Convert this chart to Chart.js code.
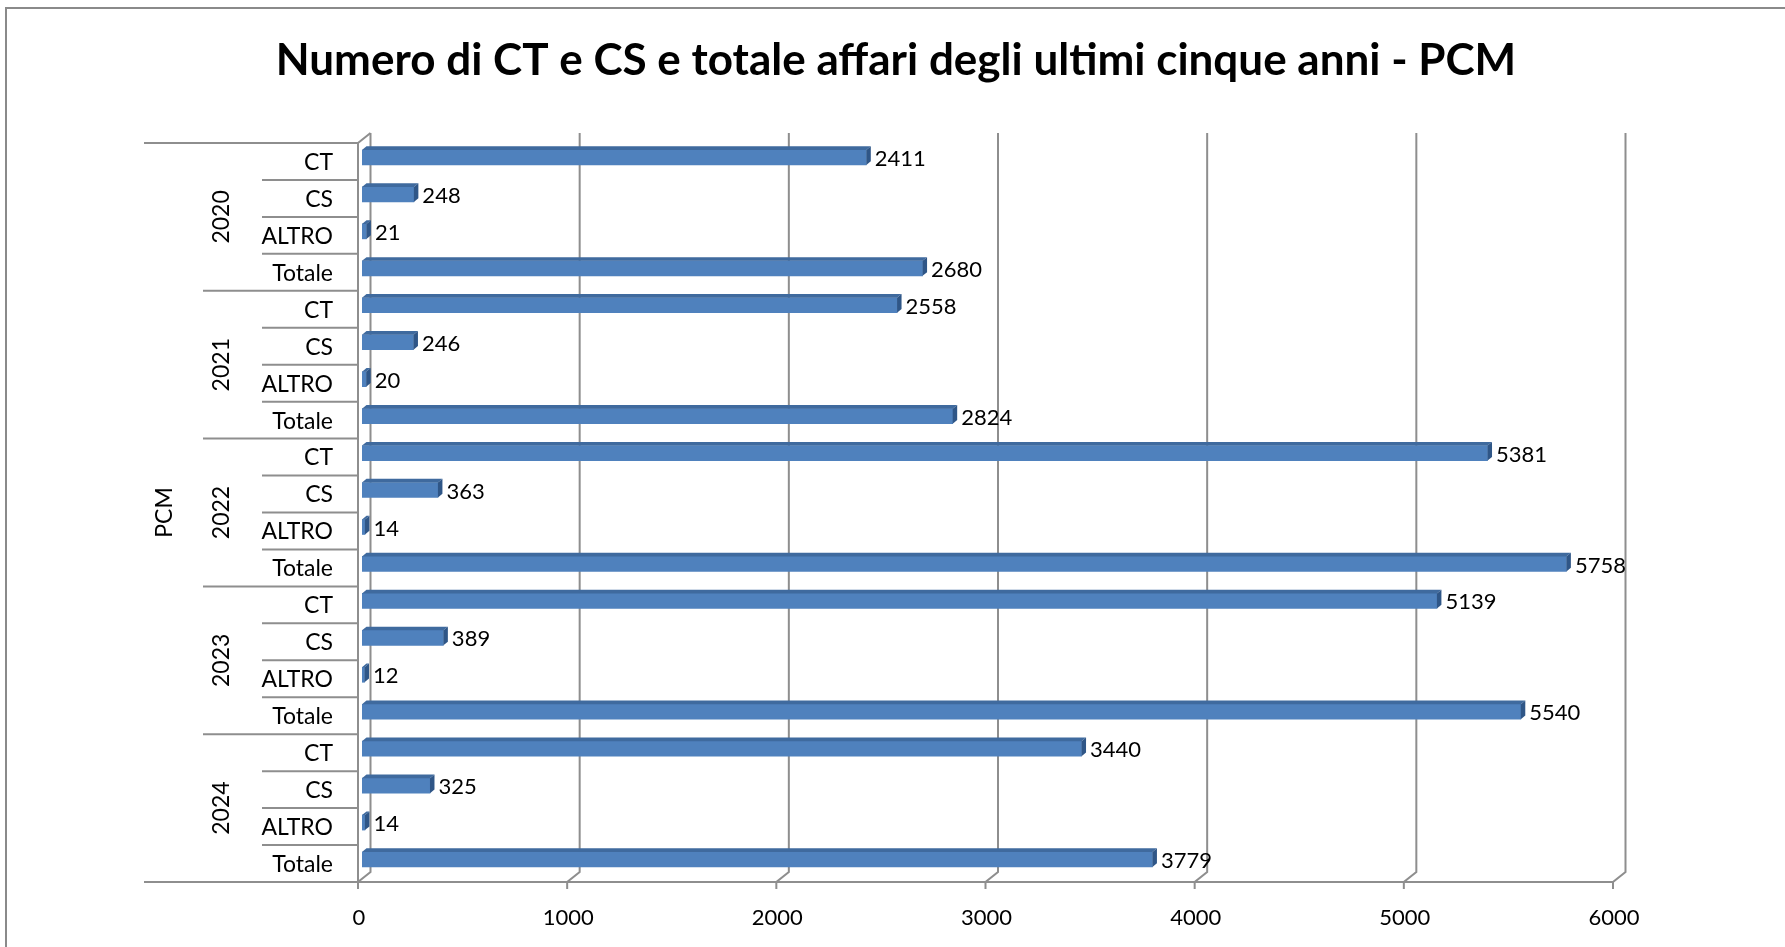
<!DOCTYPE html>
<html>
<head>
<meta charset="utf-8">
<script src="https://cdn.jsdelivr.net/npm/chart.js@4.4.1/dist/chart.umd.min.js"></script>
<style>
    html, body { margin: 0; padding: 0; background: #ffffff; }
    canvas { display: block; }
</style>
</head>
<body>
<canvas id="pcmChart" width="1785" height="947"></canvas>
<script>
/* ------------------------------
   DATA
--------------------------------*/

const chartTitle = "Numero di CT e CS e totale affari degli ultimi cinque anni - PCM";
const groupName = "PCM";
const years = ["2020", "2021", "2022", "2023", "2024"];
const kinds = ["CT", "CS", "ALTRO", "Totale"];

const ctValues = [2411, 2558, 5381, 5139, 3440];
const csValues = [248, 246, 363, 389, 325];
const altroValues = [21, 20, 14, 12, 14];
const totaleValues = [2680, 2824, 5758, 5540, 3779];

const xTicks = [0, 1000, 2000, 3000, 4000, 5000, 6000];

// one row per (year, kind), in drawing order top -> bottom
const rowLabels = [];
const rowValues = [];
years.forEach((y, i) => {
    const perKind = [ctValues[i], csValues[i], altroValues[i], totaleValues[i]];
    kinds.forEach((k, j) => {
        rowLabels.push(y + " " + k);
        rowValues.push(perKind[j]);
    });
});

/* ------------------------------
   STYLE
--------------------------------*/

const FONT = "Lato, 'Open Sans', sans-serif";
const GRID = "#8e8e8e";
const BAR_FRONT = "#4f81bd";
const BAR_TOP = "#3f6a9e";
const BAR_END = "#2f5687";

// fake 3D: bars sit between a front plane and a back wall
const FRONT = { dx: -4, dy: 4 };
const BACK = { dx: 8.5, dy: -6 };
const BAR_DEPTH = { dx: 4.5, dy: 3.7 };

/* ------------------------------
   3D FRAME + LABELS PLUGIN
--------------------------------*/

const frame3d = {
    id: "frame3d",

    beforeDraw(chart) {
        const { ctx, chartArea: a, scales: { x } } = chart;
        ctx.save();
        ctx.fillStyle = "#ffffff";
        ctx.fillRect(0, 0, chart.width, chart.height);

        // outer border
        ctx.strokeStyle = "#8a8a8a";
        ctx.lineWidth = 2;
        ctx.beginPath();
        ctx.moveTo(6, chart.height + 5);
        ctx.lineTo(6, 8);
        ctx.lineTo(chart.width + 5, 8);
        ctx.stroke();

        const fTop = a.top + FRONT.dy, fBot = a.bottom + FRONT.dy;
        const bTop = a.top + BACK.dy, bBot = a.bottom + BACK.dy;

        ctx.strokeStyle = GRID;
        ctx.lineWidth = 2;

        // back wall gridlines with floor diagonals and ticks
        xTicks.forEach(v => {
            const px = x.getPixelForValue(v);
            ctx.beginPath();
            ctx.moveTo(px + BACK.dx, bTop);
            ctx.lineTo(px + BACK.dx, bBot);
            ctx.lineTo(px + FRONT.dx, fBot);
            ctx.lineTo(px + FRONT.dx, fBot + 7);
            ctx.stroke();
        });

        // left side wall
        const x0 = x.getPixelForValue(xTicks[0]);
        ctx.beginPath();
        ctx.moveTo(x0 + BACK.dx, bTop);
        ctx.lineTo(x0 + FRONT.dx, fTop);
        ctx.lineTo(x0 + FRONT.dx, fBot);
        ctx.stroke();

        // category frame and front floor edge
        const n = rowLabels.length;
        const band = (fBot - fTop) / n;
        const axisX = x0 + FRONT.dx;
        ctx.beginPath();
        ctx.moveTo(144, fTop);
        ctx.lineTo(axisX, fTop);
        ctx.moveTo(144, fBot);
        ctx.lineTo(x.getPixelForValue(xTicks[xTicks.length - 1]) + FRONT.dx, fBot);
        for (let i = 1; i < n; i++) {
            const yy = fTop + i * band;
            ctx.moveTo(i % kinds.length === 0 ? 203 : 262, yy);
            ctx.lineTo(axisX, yy);
        }
        ctx.stroke();
        ctx.restore();
    },

    afterDatasetsDraw(chart) {
        const { ctx } = chart;
        const meta = chart.getDatasetMeta(0);
        ctx.save();
        meta.data.forEach((bar, i) => {
            const t = bar.y - bar.height / 2;
            const b = bar.y + bar.height / 2;
            const { dx, dy } = BAR_DEPTH;

            // top face
            ctx.fillStyle = BAR_TOP;
            ctx.beginPath();
            ctx.moveTo(bar.base, t);
            ctx.lineTo(bar.x, t);
            ctx.lineTo(bar.x + dx, t - dy);
            ctx.lineTo(bar.base + dx, t - dy);
            ctx.closePath();
            ctx.fill();

            // end face
            ctx.fillStyle = BAR_END;
            ctx.beginPath();
            ctx.moveTo(bar.x, t);
            ctx.lineTo(bar.x, b);
            ctx.lineTo(bar.x + dx, b - dy);
            ctx.lineTo(bar.x + dx, t - dy);
            ctx.closePath();
            ctx.fill();

            // value label
            ctx.fillStyle = "#000000";
            ctx.font = "22px " + FONT;
            ctx.textAlign = "left";
            ctx.textBaseline = "middle";
            ctx.fillText(String(rowValues[i]), bar.x + dx + 4, bar.y + 1.5);
        });
        ctx.restore();
    },

    afterDraw(chart) {
        const { ctx, chartArea: a, scales: { x } } = chart;
        const fTop = a.top + FRONT.dy, fBot = a.bottom + FRONT.dy;
        const band = (fBot - fTop) / rowLabels.length;
        ctx.save();
        ctx.fillStyle = "#000000";
        ctx.font = "23px " + FONT;
        ctx.textBaseline = "middle";

        // kind labels
        ctx.textAlign = "right";
        rowLabels.forEach((lbl, i) => {
            ctx.fillText(kinds[i % kinds.length], 333, fTop + (i + 0.5) * band + 1);
        });

        // year labels, rotated
        ctx.textAlign = "center";
        years.forEach((y, i) => {
            const cy = fTop + (i + 0.5) * band * kinds.length;
            ctx.save();
            ctx.translate(222, cy);
            ctx.rotate(-Math.PI / 2);
            ctx.fillText(y, 0, 0);
            ctx.restore();
        });

        // outer group label
        ctx.save();
        ctx.translate(165, (fTop + fBot) / 2);
        ctx.rotate(-Math.PI / 2);
        ctx.fillText(groupName, 0, 0);
        ctx.restore();

        // x tick labels on the front plane
        ctx.font = "22px " + FONT;
        xTicks.forEach(v => {
            ctx.fillText(String(v), x.getPixelForValue(v) + FRONT.dx + 1, 918);
        });

        // title
        ctx.font = "bold 44px " + FONT;
        ctx.fillText(chartTitle, 896, 61);
        ctx.restore();
    }
};

/* ------------------------------
   CHART
--------------------------------*/

const ctx = document.getElementById("pcmChart");

const pcmChart = new Chart(ctx, {
    type: "bar",
    data: {
        labels: rowLabels,
        datasets: [{
            label: groupName,
            data: rowValues,
            backgroundColor: BAR_FRONT,
            borderWidth: 0,
            barThickness: 15
        }]
    },
    options: {
        indexAxis: "y",
        responsive: false,
        animation: false,
        devicePixelRatio: 1,
        layout: {
            padding: { left: 362, right: 168, top: 139, bottom: 69 }
        },
        plugins: {
            legend: { display: false },
            tooltip: { enabled: false }
        },
        scales: {
            x: {
                display: false,
                min: xTicks[0],
                max: xTicks[xTicks.length - 1],
                ticks: { stepSize: 1000 }
            },
            y: {
                display: false,
                offset: true
            }
        }
    },
    plugins: [frame3d]
});
</script>
</body>
</html>
